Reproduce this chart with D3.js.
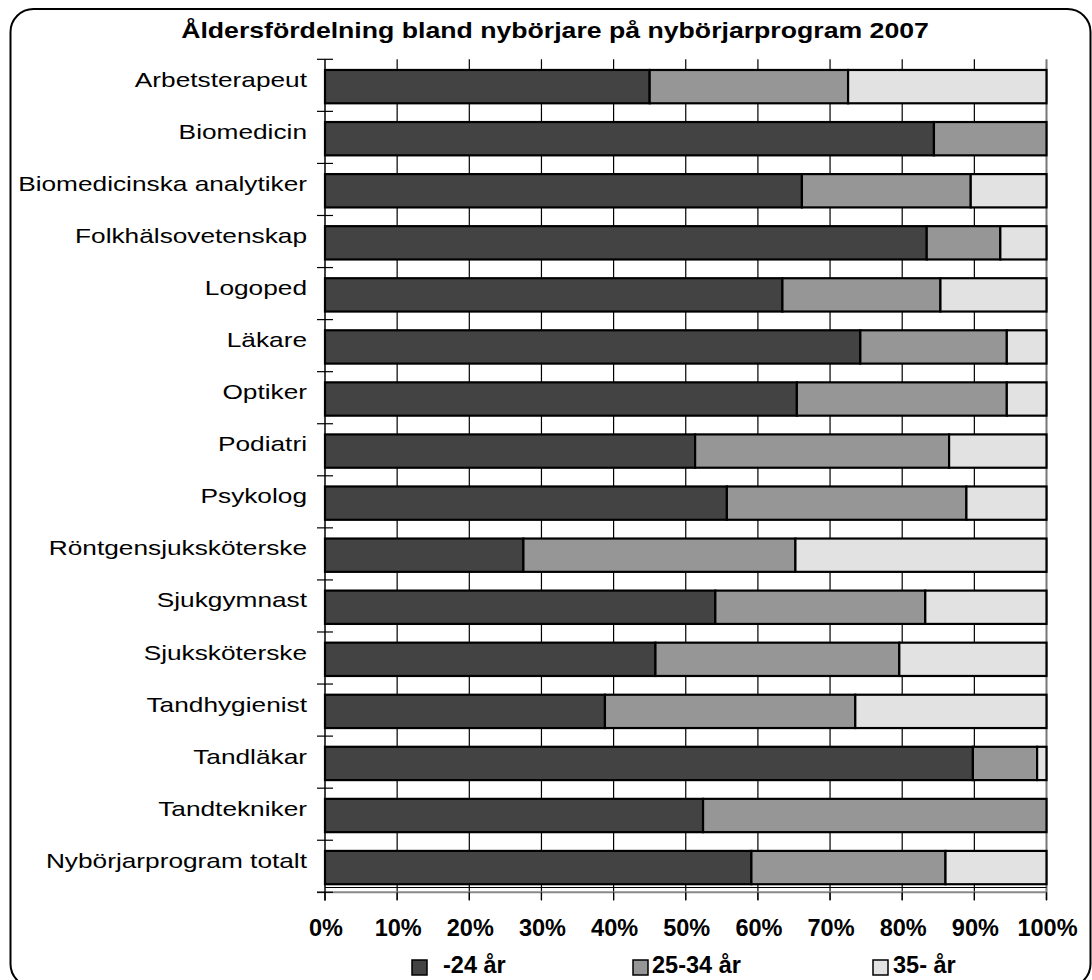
<!DOCTYPE html>
<html>
<head>
<meta charset="utf-8">
<script src="https://cdn.jsdelivr.net/npm/d3@7"></script>
<style>
  html, body { margin: 0; padding: 0; background: #fff; }
  svg { display: block; font-family: "Liberation Sans", Arial, sans-serif; }
</style>
</head>
<body>
<svg id="chart" width="1092" height="980"></svg>
<script>
const title = "Åldersfördelning bland nybörjare på nybörjarprogram 2007";
const categories = [
  "Arbetsterapeut", "Biomedicin", "Biomedicinska analytiker", "Folkhälsovetenskap",
  "Logoped", "Läkare", "Optiker", "Podiatri", "Psykolog", "Röntgensjuksköterske",
  "Sjukgymnast", "Sjuksköterske", "Tandhygienist", "Tandläkar", "Tandtekniker",
  "Nybörjarprogram totalt"
];
const seriesNames = ["-24 år", "25-34 år", "35- år"];
const young = [45.0, 84.4, 66.1, 83.4, 63.4, 74.2, 65.4, 51.3, 55.7, 27.5, 54.1, 45.8, 38.8, 89.8, 52.4, 59.1];
const mid   = [27.5, 15.6, 23.4, 10.2, 21.9, 20.3, 29.1, 35.2, 33.2, 37.7, 29.1, 33.8, 34.7,  8.9, 47.6, 26.9];
const old   = [27.5,  0.0, 10.5,  6.4, 14.7,  5.5,  5.5, 13.5, 11.1, 34.8, 16.8, 20.4, 26.5,  1.3,  0.0, 14.0];
const tickValues = [0, 10, 20, 30, 40, 50, 60, 70, 80, 90, 100];
const colors = ["#434343", "#969696", "#e2e2e2"];

const rows = categories.map((c, i) => ({ cat: c, s0: young[i], s1: mid[i], s2: old[i] }));
const stack = d3.stack().keys(["s0", "s1", "s2"])(rows);

const svg = d3.select("#chart");
const STRETCH = 1.25;

// outer frame
svg.append("rect")
  .attr("x", 10.5).attr("y", 9).attr("width", 1080).attr("height", 978)
  .attr("rx", 23).attr("ry", 23)
  .attr("fill", "#fff").attr("stroke", "#000").attr("stroke-width", 2);

const x = d3.scaleLinear().domain([0, 100]).range([325, 1046.5]);
const y = d3.scaleBand().domain(categories).range([59.3, 892.3]);
const bw = y.bandwidth();

// title
svg.append("g").attr("transform", `translate(555,37.5) scale(1.24,1)`)
  .append("text").attr("text-anchor", "middle")
  .attr("font-size", 21.5).attr("font-weight", "bold").attr("fill", "#000")
  .text(title);

// gridlines
svg.append("g").selectAll("line").data(tickValues.filter(v => v > 0))
  .join("line")
  .attr("x1", d => x(d)).attr("x2", d => x(d))
  .attr("y1", 59.3).attr("y2", 900)
  .attr("stroke", d => d === 100 ? "#777" : "#000")
  .attr("stroke-width", d => d === 100 ? 2 : 1.2);

// bars
svg.append("g").selectAll("g").data(stack).join("g")
  .attr("fill", (d, i) => colors[i])
  .selectAll("rect").data(d => d.filter(p => p[1] - p[0] > 0))
  .join("rect")
  .attr("x", d => x(d[0]))
  .attr("width", d => x(d[1]) - x(d[0]))
  .attr("y", d => y(d.data.cat) + bw * 0.205)
  .attr("height", bw * 0.64)
  .attr("stroke", "#000").attr("stroke-width", 2.2);

// x axis line (bottom)
svg.append("line").attr("x1", 317).attr("x2", 1046.5)
  .attr("y1", 892.3).attr("y2", 892.3).attr("stroke", "#888").attr("stroke-width", 2);
svg.append("line").attr("x1", 325).attr("x2", 1046.5)
  .attr("y1", 887.5).attr("y2", 887.5).attr("stroke", "#000").attr("stroke-width", 1);

// x ticks
svg.append("g").selectAll("line").data(tickValues).join("line")
  .attr("x1", d => x(d)).attr("x2", d => x(d))
  .attr("y1", 892.3).attr("y2", 900.5)
  .attr("stroke", "#000").attr("stroke-width", 1.2);

// y axis
svg.append("line").attr("x1", 325).attr("x2", 325)
  .attr("y1", 59.3).attr("y2", 900.5).attr("stroke", "#000").attr("stroke-width", 1.5);
const bounds = categories.map(c => y(c)).concat([y(categories[categories.length - 1]) + bw]);
svg.append("g").selectAll("line").data(bounds).join("line")
  .attr("x1", 317).attr("x2", 333)
  .attr("y1", d => d).attr("y2", d => d)
  .attr("stroke", "#000").attr("stroke-width", 1.2);

// category labels
svg.append("g").selectAll("g").data(categories).join("g")
  .attr("transform", d => `translate(307,${y(d) + bw / 2 + 1.5}) scale(${STRETCH},1)`)
  .append("text").attr("text-anchor", "end")
  .attr("font-size", 21).attr("fill", "#000")
  .text(d => d);

// tick labels
svg.append("g").selectAll("text").data(tickValues).join("text")
  .attr("x", d => x(d) + 1).attr("y", 936)
  .attr("text-anchor", "middle")
  .attr("font-size", 23.5).attr("font-weight", "bold").attr("fill", "#000")
  .text(d => d + "%");

// legend
const legendX = [412, 633, 873];
const legendTextX = [443, 652, 893];
const lg = svg.append("g").selectAll("g").data(seriesNames).join("g");
lg.append("rect")
  .attr("x", (d, i) => legendX[i]).attr("y", 960)
  .attr("width", 15).attr("height", 15)
  .attr("fill", (d, i) => colors[i]).attr("stroke", "#000").attr("stroke-width", 1.5);
lg.append("text")
  .attr("x", (d, i) => legendTextX[i]).attr("y", 972.5)
  .attr("font-size", 23.5).attr("font-weight", "bold").attr("fill", "#000")
  .text(d => d);
</script>
</body>
</html>
